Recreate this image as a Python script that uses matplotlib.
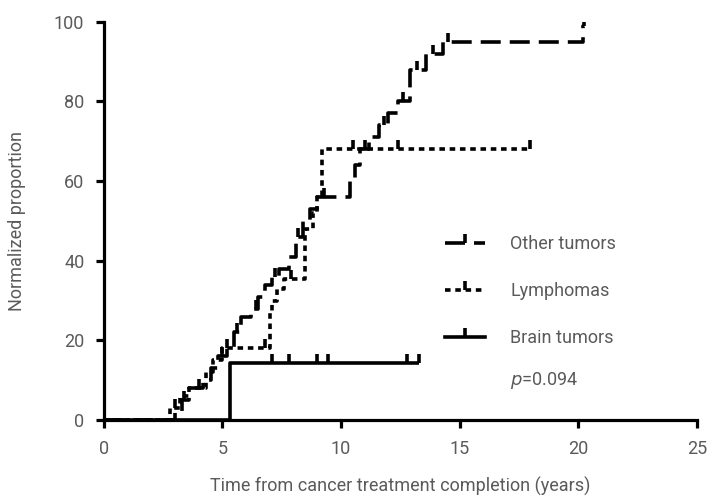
import numpy as np
import matplotlib
matplotlib.use("Agg")
import matplotlib.pyplot as plt
from matplotlib.path import Path
from matplotlib.lines import Line2D

# ---------------- data ----------------
other_t = [0, 3.0, 3.3, 3.6, 4.2, 4.5, 4.8, 5.2, 5.5, 5.8, 6.2, 6.5, 6.8, 7.1, 7.4, 7.8,
           8.1, 8.4, 8.7, 9.0, 10.4, 10.6, 10.8, 11.2, 11.6, 12.0, 12.4, 12.9, 13.6, 14.3, 20.2]
other_v = [0, 2, 5, 8, 10, 13, 16, 18, 22, 26, 28, 31, 34, 36, 38, 41,
           46, 50, 53, 56, 60, 64, 68, 71, 74, 77, 80, 88, 92, 95, 99]
other_end = 20.25
other_cens = [3.4, 4.0, 5.0, 5.6, 6.4, 7.2, 8.2, 9.3, 11.0, 11.8, 12.6, 13.2, 13.9, 14.5, 20.25]

lymph_t = [0, 2.8, 3.2, 3.6, 4.3, 4.6, 5.0, 7.0, 7.1, 7.3, 7.6, 8.5, 8.8, 9.0, 9.2]
lymph_v = [0, 3, 6, 8, 12, 15, 18, 27, 30, 33, 35.5, 48, 52, 56, 68]
lymph_end = 17.95
lymph_cens = [3.0, 5.2, 6.8, 7.9, 10.5, 12.4, 17.95]

brain_t = [0, 5.3]
brain_v = [0, 14.3]
brain_end = 13.3
brain_cens = [7.1, 7.8, 9.0, 9.45, 12.8, 13.3]

labels = ["Other tumors", "Lymphomas", "Brain tumors"]
xticks = [0, 5, 10, 15, 20, 25]
yticks = [0, 20, 40, 60, 80, 100]

# ---------------- style ----------------
plt.rcParams['font.family'] = ['Roboto', 'DejaVu Sans']
plt.rcParams['lines.scale_dashes'] = False
txt = '#5a5a5a'

fig = plt.figure(figsize=(7.11, 4.96), dpi=100)
ax = fig.add_axes([0.146, 0.153, 0.834, 0.803])

tick_marker = Path([(0, 0), (0, 1)], [Path.MOVETO, Path.LINETO])

def step_val(ts, vs, x):
    idx = np.searchsorted(ts, x, side='right') - 1
    return np.asarray(vs)[idx]

long_dash = (0, (14.4, 6.5))
short_dash = (0, (4.0, 3.4))
series = [
    (other_t, other_v, other_end, other_cens, long_dash),
    (lymph_t, lymph_v, lymph_end, lymph_cens, short_dash),
    (brain_t, brain_v, brain_end, brain_cens, '-'),
]

lw = 2.6
mew = 2.6
ms = 13
for ts, vs, end, cens, ls in series:
    x = list(ts) + [end]
    y = list(vs) + [vs[-1]]
    ax.step(x, y, where='post', color='black', lw=lw, linestyle=ls,
            solid_capstyle='butt', dash_capstyle='butt', zorder=3)
    cy = step_val(ts, vs, np.array(cens))
    ax.plot(cens, cy, linestyle='none', marker=tick_marker, markersize=ms,
            markeredgewidth=mew, color='black', zorder=4)

ax.set_xlim(0, 25)
ax.set_ylim(0, 100)
ax.set_xticks(xticks)
ax.set_yticks(yticks)
for s in ['top', 'right']:
    ax.spines[s].set_visible(False)
for s in ['left', 'bottom']:
    ax.spines[s].set_linewidth(2.3)
ax.tick_params(axis='both', direction='out', length=6, width=2.3, colors='black',
               labelcolor=txt, labelsize=13, pad=8)
ax.set_xlabel('Time from cancer treatment completion (years)', fontsize=13, color=txt, labelpad=14)
ax.set_ylabel('Normalized proportion', fontsize=13, color=txt, labelpad=20)

handles = [
    Line2D([], [], color='black', lw=lw, linestyle=long_dash, marker=tick_marker,
           markersize=ms, markeredgewidth=mew, dash_capstyle='butt'),
    Line2D([], [], color='black', lw=lw, linestyle=short_dash, marker=tick_marker,
           markersize=ms, markeredgewidth=mew, dash_capstyle='butt'),
    Line2D([], [], color='black', lw=lw, linestyle='-', marker=tick_marker,
           markersize=ms, markeredgewidth=mew),
]
leg = ax.legend(handles, labels, loc='upper left', bbox_to_anchor=(0.548, 0.505),
                frameon=False, fontsize=13, labelcolor=txt, handlelength=2.2,
                labelspacing=1.6, handletextpad=1.4, numpoints=1)

ax.text(0.685, 0.10, r'$\it{p}$=0.094', transform=ax.transAxes, fontsize=13, color=txt,
        ha='left', va='center')

fig.savefig('out.png', dpi=100)
